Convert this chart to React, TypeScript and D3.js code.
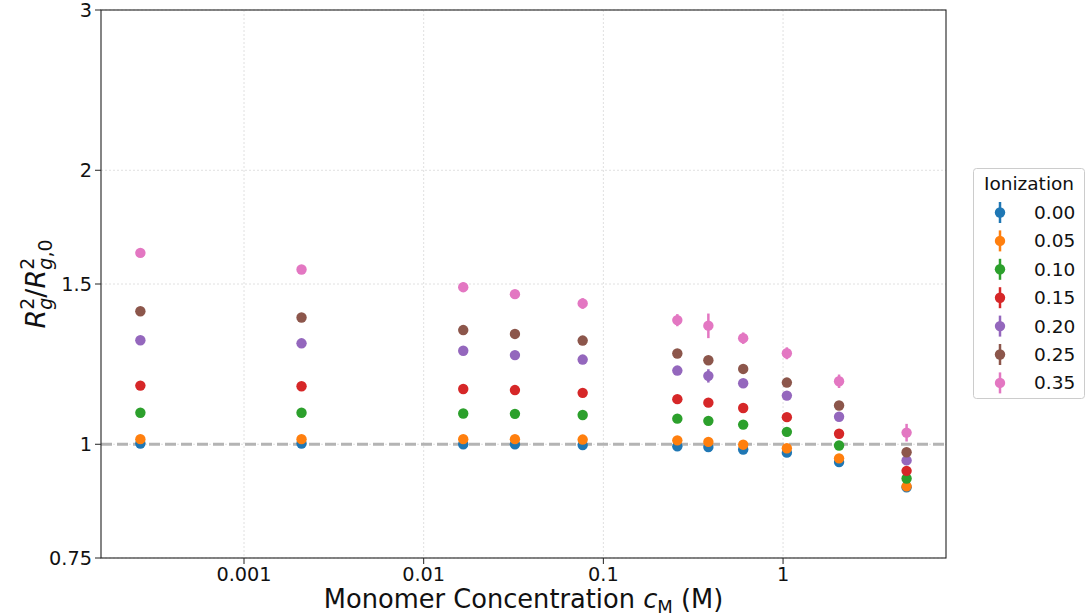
import React from 'react';
import * as d3 from 'd3';

// monomer concentration (M)
const conc = [0.000265, 0.00209, 0.0166, 0.0322, 0.0767, 0.258, 0.384, 0.6, 1.05, 2.05, 4.87];

const ionization = ['0.00', '0.05', '0.10', '0.15', '0.20', '0.25', '0.35'];
const colors = ['#1f77b4', '#ff7f0e', '#2ca02c', '#d62728', '#9467bd', '#8c564b', '#e377c2'];

// Rg^2 / Rg0^2 for each ionization level
const ion000 = [1.002, 1.002, 1.0, 1.0, 0.998, 0.995, 0.993, 0.987, 0.979, 0.956, 0.897];
const ion005 = [1.013, 1.013, 1.013, 1.013, 1.012, 1.01, 1.006, 0.999, 0.99, 0.965, 0.899];
const ion010 = [1.083, 1.083, 1.081, 1.08, 1.077, 1.067, 1.061, 1.051, 1.032, 0.997, 0.917];
const ion015 = [1.16, 1.158, 1.15, 1.147, 1.139, 1.121, 1.111, 1.096, 1.071, 1.027, 0.935];
const ion020 = [1.301, 1.291, 1.267, 1.253, 1.239, 1.205, 1.189, 1.167, 1.131, 1.072, 0.96];
const ion025 = [1.4, 1.378, 1.335, 1.322, 1.3, 1.258, 1.237, 1.21, 1.169, 1.103, 0.98];
const ion035 = [1.623, 1.556, 1.488, 1.462, 1.428, 1.369, 1.35, 1.308, 1.259, 1.173, 1.03];

// error bars
const err000 = [0, 0, 0, 0, 0, 0.002, 0.002, 0.002, 0.003, 0.003, 0.003];
const err005 = [0, 0, 0, 0, 0, 0.002, 0.002, 0.002, 0.003, 0.003, 0.003];
const err010 = [0, 0, 0, 0, 0, 0.003, 0.003, 0.003, 0.004, 0.004, 0.004];
const err015 = [0, 0, 0, 0, 0, 0.004, 0.004, 0.004, 0.005, 0.005, 0.005];
const err020 = [0.003, 0.003, 0.004, 0.004, 0.004, 0.006, 0.02, 0.006, 0.007, 0.007, 0.007];
const err025 = [0.004, 0.004, 0.005, 0.005, 0.005, 0.013, 0.007, 0.009, 0.009, 0.009, 0.011];
const err035 = [0.014, 0.014, 0.018, 0.015, 0.019, 0.021, 0.042, 0.019, 0.019, 0.02, 0.023];

const values = [ion000, ion005, ion010, ion015, ion020, ion025, ion035];
const errors = [err000, err005, err010, err015, err020, err025, err035];

const xTicks = [0.001, 0.01, 0.1, 1];
const xTickLabels = ['0.001', '0.01', '0.1', '1'];
const yTicks = [0.75, 1, 1.5, 2, 3];
const yTickLabels = ['0.75', '1', '1.5', '2', '3'];

const width = 1087;
const height = 615;
const margin = { top: 10, right: 141, bottom: 57, left: 101 };
const font = 'DejaVu Sans, sans-serif';

const App = () => {
  const x = d3.scaleLog()
    .domain([1.6e-4, 8.07])
    .range([margin.left, width - margin.right]);
  const y = d3.scaleLog()
    .domain([0.75, 3])
    .range([height - margin.bottom, margin.top]);

  const x0 = margin.left;
  const x1 = width - margin.right;
  const y0 = height - margin.bottom;
  const y1 = margin.top;

  const legendX = 973;
  const legendY = 168;
  const step = 28.4;

  return (
    <svg width={width} height={height} style={{ display: 'block', position: 'absolute', left: 0, top: 0 }}
      fontFamily={font}>
      <rect width={width} height={height} fill="white" />

      {/* grid */}
      {xTicks.map(t => (
        <line key={'gx' + t} x1={x(t)} x2={x(t)} y1={y1} y2={y0}
          stroke="#d8d8d8" strokeWidth={0.8} strokeDasharray="2,2" />
      ))}
      {yTicks.map(t => (
        <line key={'gy' + t} x1={x0} x2={x1} y1={y(t)} y2={y(t)}
          stroke="#d8d8d8" strokeWidth={0.8} strokeDasharray="2,2" />
      ))}

      {/* reference line at 1 */}
      <line x1={x0} x2={x1} y1={y(1)} y2={y(1)} stroke="#b4b4b4" strokeWidth={3}
        strokeDasharray="11,5" />

      {/* data */}
      {values.map((series, i) => (
        <g key={'s' + i} fill={colors[i]} stroke={colors[i]}>
          {series.map((v, j) => (
            <g key={j}>
              {errors[i][j] > 0 && (
                <line x1={x(conc[j])} x2={x(conc[j])}
                  y1={y(v - errors[i][j])} y2={y(v + errors[i][j])} strokeWidth={2.5} />
              )}
              <circle cx={x(conc[j])} cy={y(v)} r={5.2} stroke="none" />
            </g>
          ))}
        </g>
      ))}

      {/* axes frame */}
      <rect x={x0} y={y1} width={x1 - x0} height={y0 - y1} fill="none" stroke="#222" strokeWidth={1.1} />

      {/* x ticks */}
      {xTicks.map((t, i) => (
        <g key={'xt' + t}>
          <line x1={x(t)} x2={x(t)} y1={y0} y2={y0 + 6} stroke="#222" strokeWidth={1} />
          <text x={x(t)} y={y0 + 23} textAnchor="middle" fontSize={19.3} fill="#111">{xTickLabels[i]}</text>
        </g>
      ))}

      {/* y ticks */}
      {yTicks.map((t, i) => (
        <g key={'yt' + t}>
          <line x1={x0 - 6} x2={x0} y1={y(t)} y2={y(t)} stroke="#222" strokeWidth={1} />
          <text x={x0 - 9} y={y(t) + 7} textAnchor="end" fontSize={19.3} fill="#111">{yTickLabels[i]}</text>
        </g>
      ))}

      {/* x label */}
      <text x={(x0 + x1) / 2} y={608} textAnchor="middle" fontSize={25.7} fill="#111">
        Monomer Concentration <tspan fontStyle="italic">c</tspan>
        <tspan fontSize={18} dy={4.5}>M</tspan>
        <tspan dy={-4.5}> (M)</tspan>
      </text>

      {/* y label */}
      <g transform={`translate(45, ${(y0 + y1) / 2}) rotate(-90)`}>
        <text x={0} y={0} textAnchor="middle" fontSize={27} fill="#111">
          <tspan fontStyle="italic">R</tspan>
          <tspan fontSize={19} dy={-11}>2</tspan>
          <tspan fontSize={19} fontStyle="italic" dx={-12} dy={18}>g</tspan>
          <tspan dy={-7}>/</tspan>
          <tspan fontStyle="italic">R</tspan>
          <tspan fontSize={19} dy={-11}>2</tspan>
          <tspan fontSize={19} fontStyle="italic" dx={-12} dy={18}>g</tspan>
          <tspan fontSize={19}>,0</tspan>
        </text>
      </g>

      {/* legend */}
      <rect x={legendX + 0.5} y={legendY + 0.5} width={111} height={230} rx={3}
        fill="white" stroke="#cccccc" strokeWidth={1} />
      <text x={legendX + 56} y={legendY + 22} textAnchor="middle" fontSize={18.5} fill="#111">Ionization</text>
      {ionization.map((lab, i) => {
        const cy = legendY + 44.5 + i * step;
        return (
          <g key={'lg' + i}>
            <line x1={1000} x2={1000} y1={cy - 10.5} y2={cy + 10.5} stroke={colors[i]} strokeWidth={2.5} />
            <circle cx={1000} cy={cy} r={5.2} fill={colors[i]} />
            <text x={1034} y={cy + 6.5} fontSize={18.5} fill="#111">{lab}</text>
          </g>
        );
      })}
    </svg>
  );
};

export default App;
